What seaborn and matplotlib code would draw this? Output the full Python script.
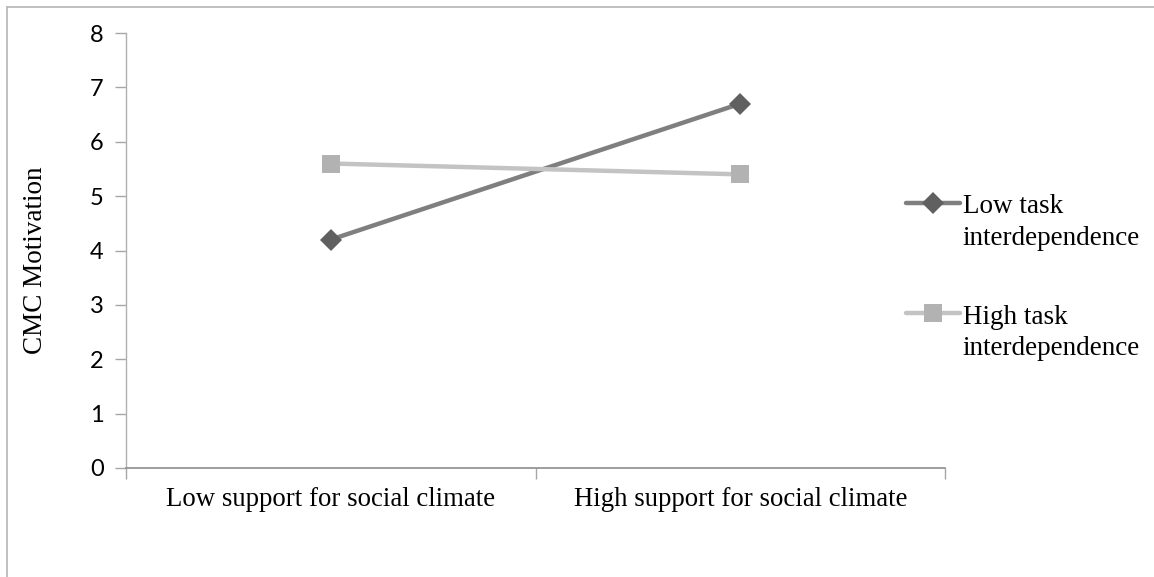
import matplotlib
matplotlib.use("Agg")
import matplotlib.pyplot as plt
from matplotlib.lines import Line2D
from matplotlib.legend_handler import HandlerLine2D
import pandas as pd
import seaborn as sns

# data
categories = ["Low support for social climate", "High support for social climate"]
series_names = ["Low task\ninterdependence", "High task\ninterdependence"]
low_task = [4.2, 6.7]
high_task = [5.6, 5.4]

df = pd.DataFrame({
    "climate": categories * 2,
    "group": [series_names[0]] * 2 + [series_names[1]] * 2,
    "motivation": low_task + high_task,
})
df["x"] = df["climate"].map({c: i for i, c in enumerate(categories)})

sns.set_style("white")
plt.rcParams["font.family"] = ["Lato", "DejaVu Sans"]
plt.rcParams["text.color"] = "black"
plt.rcParams["xtick.color"] = "black"
plt.rcParams["ytick.color"] = "black"


class FirstLineHandler(HandlerLine2D):
    # put the legend handle on the first line of a two-line label, like Excel does
    def create_artists(self, legend, orig_handle, xdescent, ydescent, width, height, fontsize, trans):
        return super().create_artists(legend, orig_handle, xdescent, ydescent - 1.46 * fontsize,
                                      width, height, fontsize, trans)


fig = plt.figure(figsize=(11.54, 5.77), dpi=100)
ax = fig.add_axes([126 / 1154, 1 - 468 / 577, (945 - 126) / 1154, (468 - 33) / 577])

line_cols = ["#7f7f7f", "#c3c3c3"]
marker_cols = ["#606060", "#b2b2b2"]
markers = ["D", "s"]
msizes = [11, 13]

for i, name in enumerate(series_names):
    sub = df[df["group"] == name]
    sns.lineplot(data=sub, x="x", y="motivation", ax=ax, color=line_cols[i], lw=3.2,
                 marker=markers[i], markersize=msizes[i], markerfacecolor=marker_cols[i],
                 markeredgecolor=marker_cols[i], markeredgewidth=0, label=name)

serif = "Liberation Serif"
ax.set_xlim(-0.5, 1.5)
ax.set_ylim(0, 8)
ax.set_yticks(range(0, 9))
# category names on the major ticks, boundary tick marks on the minor ones
ax.set_xticks([0, 1])
ax.set_xticks([-0.5, 0.5, 1.5], minor=True)
ax.tick_params(axis="x", which="major", bottom=True, length=0, pad=14)
ax.tick_params(axis="x", which="minor", bottom=True, length=8, color="#a6a6a6", width=1, direction="out")
ax.tick_params(axis="y", left=True, length=8, color="#a6a6a6", width=1, direction="out",
               labelsize=17, pad=8)
ax.set_xticklabels(categories, fontfamily=serif, fontsize=19.3)
ax.set_xlabel("")
ax.set_ylabel("CMC Motivation", family=serif, fontsize=19.5, color="black")
ax.yaxis.set_label_coords((48 - 126) / 819, (468 - 260) / 435)
for s in ["top", "right"]:
    ax.spines[s].set_visible(False)
ax.spines["left"].set_color("#b0b0b0")
ax.spines["bottom"].set_color("#8c8c8c")
ax.spines["left"].set_linewidth(1)
ax.spines["bottom"].set_linewidth(1.2)

leg = ax.legend(loc="upper left", frameon=False,
                prop={"family": serif, "size": 19.5}, handlelength=2.0,
                handletextpad=0.1, labelspacing=2.0, borderaxespad=0, borderpad=0,
                handler_map={Line2D: FirstLineHandler()})
for t in leg.get_texts():
    t.set_linespacing(1.35)
leg.set_bbox_to_anchor((906 / 1154, 1 - 194 / 577), transform=fig.transFigure)

# chart area frame (only top and left edges are visible)
fig.add_artist(Line2D([7 / 1154, 1], [1 - 7 / 577, 1 - 7 / 577], transform=fig.transFigure,
                      color="#b5b5b5", lw=1.2))
fig.add_artist(Line2D([7 / 1154, 7 / 1154], [0, 1 - 7 / 577], transform=fig.transFigure,
                      color="#b5b5b5", lw=1.2))

fig.canvas.draw()
for lbl in ax.get_xticklabels():
    lbl.set_fontfamily(serif)
    lbl.set_fontsize(19.3)

fig.savefig("out.png", dpi=100)
